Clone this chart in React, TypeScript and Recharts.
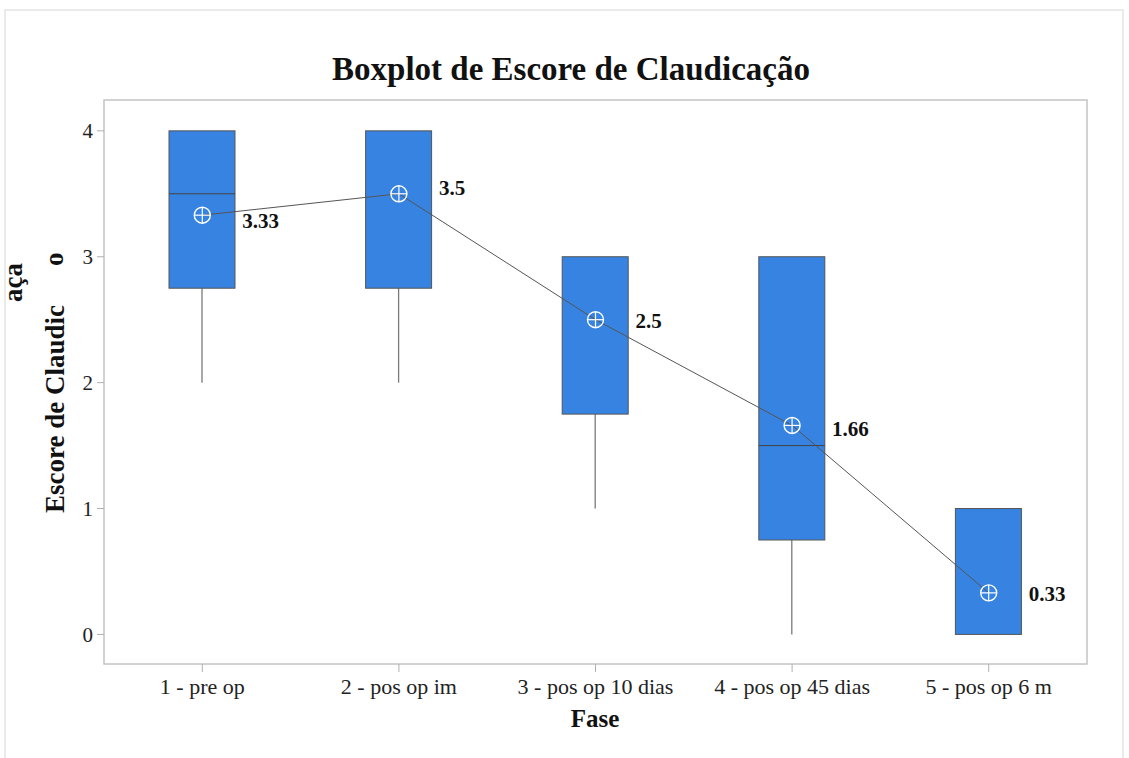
import { ComposedChart, Bar, Line, XAxis, YAxis, LabelList } from "recharts";

// Escore de claudicação por fase
const phases = [
  "1 - pre op",
  "2 - pos op im",
  "3 - pos op 10 dias",
  "4 - pos op 45 dias",
  "5 - pos op 6 m",
];
const whiskerLow = [2, 2, 1, 0, 0];
const quartile1 = [2.75, 2.75, 1.75, 0.75, 0];
const medians = [3.5, 4, 3, 1.5, 0];
const quartile3 = [4, 4, 3, 3, 1];
const whiskerHigh = [4, 4, 3, 3, 1];
const means = [3.33, 3.5, 2.5, 1.66, 0.33];
const yTicks = [0, 1, 2, 3, 4];

const W = 1129;
const H = 758;
const PLOT = { left: 104, top: 100, right: 1087, bottom: 664 };
const FONT = '"Liberation Serif", "Times New Roman", serif';
const BOX_FILL = "#3783e1";
// vertical nudge for each mean label so it clears the connecting line
const LABEL_DY = [6, -6, 1, 4, 1];

const rows = phases.map((phase, i) => ({
  phase,
  box: [quartile1[i], quartile3[i]],
  lo: whiskerLow[i],
  hi: whiskerHigh[i],
  median: medians[i],
  mean: means[i],
}));

function BoxShape(props: any) {
  const { x, y, width, height, payload } = props;
  const [q1, q3] = payload.box;
  const top = Math.min(y, y + height);
  const h = Math.abs(height);
  const unit = h / (q3 - q1);
  const toY = (v: number) => top + (q3 - v) * unit;
  const cx = x + width / 2;
  const showMedian = payload.median > q1 && payload.median < q3;
  return (
    <g>
      {payload.hi > q3 && (
        <line x1={cx} x2={cx} y1={toY(payload.hi)} y2={top} stroke="#7a7a7a" strokeWidth={1.3} />
      )}
      {payload.lo < q1 && (
        <line x1={cx} x2={cx} y1={top + h} y2={toY(payload.lo)} stroke="#7a7a7a" strokeWidth={1.3} />
      )}
      <rect x={x} y={top} width={width} height={h} fill={BOX_FILL} stroke="#555" strokeWidth={1} />
      {showMedian && (
        <line x1={x} x2={x + width} y1={toY(payload.median)} y2={toY(payload.median)} stroke="#444" strokeWidth={1} />
      )}
    </g>
  );
}

function MeanDot(props: any) {
  const { cx, cy } = props;
  if (cx == null || cy == null) return null;
  const r = 8;
  return (
    <g key={`m-${cx}`}>
      <circle cx={cx} cy={cy} r={r} fill="none" stroke="#fff" strokeWidth={1.4} />
      <line x1={cx - r} x2={cx + r} y1={cy} y2={cy} stroke="#fff" strokeWidth={1.2} />
      <line x1={cx} x2={cx} y1={cy - r} y2={cy + r} stroke="#fff" strokeWidth={1.2} />
    </g>
  );
}

function MeanLabel(props: any) {
  const { x, y, value, index } = props;
  return (
    <text
      x={x + 40}
      y={y + 7 + (LABEL_DY[index] ?? 0)}
      fontFamily={FONT}
      fontSize={21}
      fontWeight="bold"
      fill="#111"
    >
      {value}
    </text>
  );
}

function Frame() {
  return (
    <svg width={W} height={H} style={{ position: "absolute", left: 0, top: 0 }}>
      <rect x={0} y={0} width={W} height={H} fill="#fff" />
      <rect x={5} y={10} width={1118} height={H} fill="none" stroke="#e4e4e4" strokeWidth={1.5} />
      <rect
        x={PLOT.left}
        y={PLOT.top}
        width={PLOT.right - PLOT.left}
        height={PLOT.bottom - PLOT.top}
        fill="none"
        stroke="#c4c4c4"
        strokeWidth={1.5}
      />
      <text x={571} y={80} textAnchor="middle" fontFamily={FONT} fontSize={33} fontWeight="bold" fill="#111">
        Boxplot de Escore de Claudicação
      </text>
      <text x={595} y={727} textAnchor="middle" fontFamily={FONT} fontSize={25} fontWeight="bold" fill="#111">
        Fase
      </text>
      <text transform="translate(64 513) rotate(-90)" fontFamily={FONT} fontSize={27} fontWeight="bold" fill="#111">
        Escore de Claudic
      </text>
      <text transform="translate(63 266) rotate(-90)" fontFamily={FONT} fontSize={27} fontWeight="bold" fill="#111">
        o
      </text>
      <text transform="translate(22 302) rotate(-90)" fontFamily={FONT} fontSize={27} fontWeight="bold" fill="#111">
        aça
      </text>
    </svg>
  );
}

export default function App() {
  const tickStyle = { fontFamily: FONT, fontSize: 22, fill: "#222" };
  return (
    <div style={{ position: "absolute", left: 0, top: 0, width: W, height: H, background: "#fff" }}>
      <Frame />
      <div style={{ position: "absolute", left: 0, top: 0 }}>
        <ComposedChart
          width={W}
          height={H}
          data={rows}
          margin={{ top: PLOT.top, right: W - PLOT.right, bottom: H - PLOT.bottom - 60, left: PLOT.left - 60 }}
        >
          <XAxis
            dataKey="phase"
            height={60}
            axisLine={false}
            tickLine={{ stroke: "#b0b0b0" }}
            tickSize={8}
            tickMargin={6}
            tick={tickStyle}
            interval={0}
          />
          <YAxis
            type="number"
            domain={[-0.235, 4.245]}
            ticks={yTicks}
            width={60}
            axisLine={false}
            tickLine={{ stroke: "#b0b0b0" }}
            tickSize={7}
            tickMargin={4}
            tick={{ ...tickStyle, fontSize: 21 }}
          />
          <Bar dataKey="box" barSize={66} shape={<BoxShape />} isAnimationActive={false} />
          <Line
            type="linear"
            dataKey="mean"
            stroke="#555"
            strokeWidth={1}
            dot={<MeanDot />}
            activeDot={false}
            isAnimationActive={false}
          >
            <LabelList dataKey="mean" content={<MeanLabel />} />
          </Line>
        </ComposedChart>
      </div>
    </div>
  );
}
